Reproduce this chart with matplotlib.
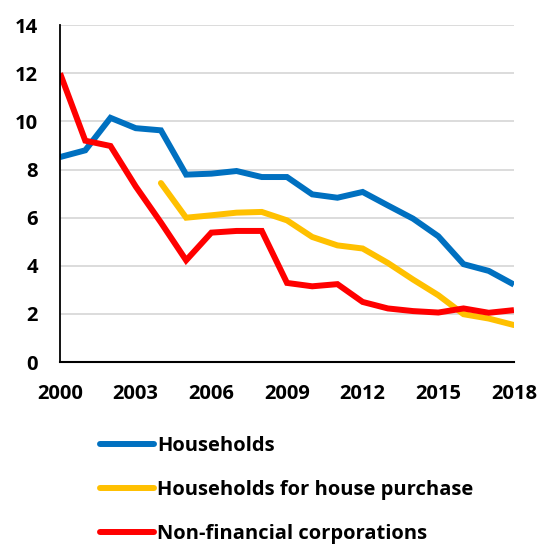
import matplotlib
matplotlib.use("Agg")
import matplotlib.pyplot as plt

years = list(range(2000, 2019))
households = [8.52, 8.8, 10.15, 9.72, 9.63, 7.79, 7.83, 7.94, 7.69, 7.69,
              6.97, 6.83, 7.07, 6.51, 5.96, 5.23, 4.07, 3.79, 3.22]
house_years = list(range(2004, 2019))
house_purchase = [7.44, 6.0, 6.1, 6.21, 6.24, 5.89, 5.2, 4.85, 4.72, 4.12,
                  3.43, 2.78, 1.99, 1.81, 1.54]
nfc = [12.0, 9.2, 8.98, 7.3, 5.8, 4.23, 5.38, 5.45, 5.45, 3.29,
       3.15, 3.24, 2.5, 2.23, 2.12, 2.06, 2.23, 2.05, 2.16]
series_labels = ["Households", "Households for house purchase",
                 "Non-financial corporations"]
xticks = [2000, 2003, 2006, 2009, 2012, 2015, 2018]
yticks = [0, 2, 4, 6, 8, 10, 12, 14]

plt.rcParams['font.family'] = ['Open Sans', 'DejaVu Sans']
plt.rcParams['font.weight'] = 'bold'

fig = plt.figure(figsize=(5.41, 5.47), dpi=100)
ax = fig.add_axes([0.111, 0.338, 0.839, 0.616])

lw = 4.3
ax.plot(years, households, color="#0070C0", lw=lw, label=series_labels[0],
        solid_joinstyle="miter", solid_capstyle="butt")
ax.plot(house_years, house_purchase, color="#FFC000", lw=lw, label=series_labels[1],
        solid_joinstyle="miter", solid_capstyle="round")
ax.plot(years, nfc, color="#FF0000", lw=lw, label=series_labels[2],
        solid_joinstyle="miter", solid_capstyle="butt")

ax.set_xlim(2000, 2018)
ax.set_ylim(0, 14)
ax.set_xticks(xticks)
ax.set_yticks(yticks)
ax.tick_params(axis='both', length=0, labelsize=14.5)
for lab in ax.get_xticklabels() + ax.get_yticklabels():
    lab.set_fontweight('bold')
ax.tick_params(axis='y', pad=16)
ax.tick_params(axis='x', pad=16)

ax.grid(axis='y', color="#d9d9d9", lw=1.3)
ax.set_axisbelow(True)
for s in ['top', 'right']:
    ax.spines[s].set_visible(False)
ax.spines['left'].set_color('black')
ax.spines['left'].set_linewidth(1.3)
ax.spines['bottom'].set_color('black')
ax.spines['bottom'].set_linewidth(1.5)

handles, labels = ax.get_legend_handles_labels()
leg = fig.legend(handles, labels, loc='upper left',
                 bbox_to_anchor=(0.185, 0.203), frameon=False,
                 prop={'size': 14.5, 'weight': 'bold'},
                 handlelength=2.7, handletextpad=0.15, labelspacing=1.2,
                 borderaxespad=0, borderpad=0)
for h in leg.get_lines():
    h.set_linewidth(4.3)
    h.set_solid_capstyle('round')

fig.savefig("out.png", dpi=100)
